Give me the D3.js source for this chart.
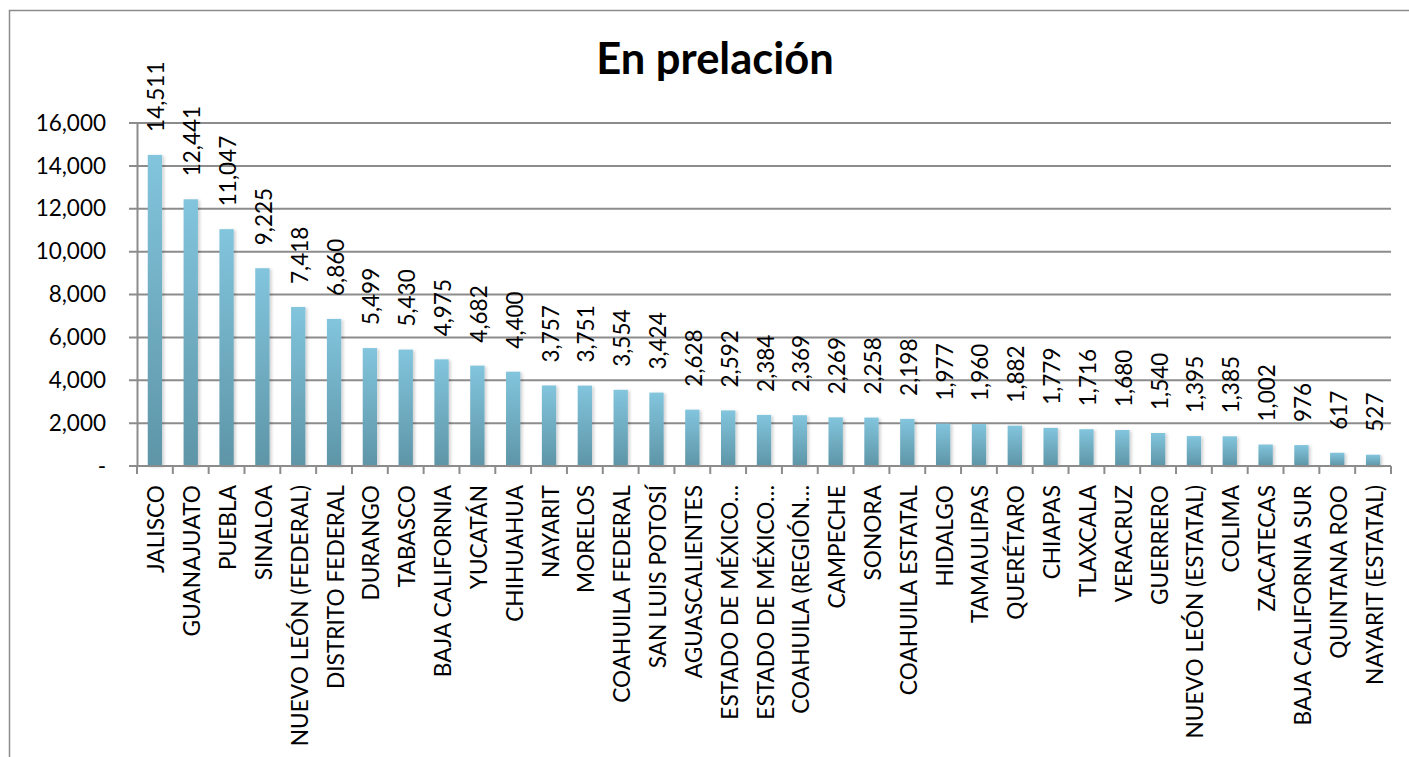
<!DOCTYPE html>
<html>
<head>
<meta charset="utf-8">
<script src="https://cdn.jsdelivr.net/npm/d3@7"></script>
<style>
  body { margin: 0; background: #fff; }
  svg { display: block; }
  text { font-family: Lato, "Open Sans", sans-serif; fill: #000; }
</style>
</head>
<body>
<div id="chart"></div>
<script>
// estados, en el orden de la grafica
var estados = [
    "JALISCO", "GUANAJUATO", "PUEBLA", "SINALOA", "NUEVO LEÓN (FEDERAL)",
    "DISTRITO FEDERAL", "DURANGO", "TABASCO", "BAJA CALIFORNIA", "YUCATÁN",
    "CHIHUAHUA", "NAYARIT", "MORELOS", "COAHUILA FEDERAL", "SAN LUIS POTOSÍ",
    "AGUASCALIENTES", "ESTADO DE MÉXICO…", "ESTADO DE MÉXICO…", "COAHUILA (REGIÓN…", "CAMPECHE",
    "SONORA", "COAHUILA ESTATAL", "HIDALGO", "TAMAULIPAS", "QUERÉTARO",
    "CHIAPAS", "TLAXCALA", "VERACRUZ", "GUERRERO", "NUEVO LEÓN (ESTATAL)",
    "COLIMA", "ZACATECAS", "BAJA CALIFORNIA SUR", "QUINTANA ROO", "NAYARIT (ESTATAL)"
];
var prelacion = [
    14511, 12441, 11047, 9225, 7418,
    6860, 5499, 5430, 4975, 4682,
    4400, 3757, 3751, 3554, 3424,
    2628, 2592, 2384, 2369, 2269,
    2258, 2198, 1977, 1960, 1882,
    1779, 1716, 1680, 1540, 1395,
    1385, 1002, 976, 617, 527
];
var yTicks = [0, 2000, 4000, 6000, 8000, 10000, 12000, 14000, 16000];

var width = 1409, height = 757;
var plotLeft = 137, plotRight = 1391, plotTop = 123, plotBottom = 466;

var svg = d3.select("#chart").append("svg")
    .attr("width", width)
    .attr("height", height);

var defs = svg.append("defs");
var grad = defs.append("linearGradient")
    .attr("id", "barGrad")
    .attr("x1", 0).attr("y1", 0).attr("x2", 0).attr("y2", 1);
grad.append("stop").attr("offset", "0%").attr("stop-color", "#82c5dd");
grad.append("stop").attr("offset", "100%").attr("stop-color", "#5e95a7");

var shadow = defs.append("filter").attr("id", "shadow")
    .attr("x", "-50%").attr("y", "-10%").attr("width", "200%").attr("height", "120%");
shadow.append("feDropShadow")
    .attr("dx", 2).attr("dy", 1).attr("stdDeviation", 1.5)
    .attr("flood-color", "#000").attr("flood-opacity", 0.18);

// marco del grafico
svg.append("rect")
    .attr("x", 9.5).attr("y", 10.5)
    .attr("width", 1420).attr("height", 800)
    .attr("fill", "none")
    .attr("stroke", "#8c8c8c")
    .attr("stroke-width", 1.5);

var idx = d3.range(estados.length);

var x = d3.scaleBand()
    .domain(idx)
    .range([plotLeft, plotRight])
    .paddingInner(0.6)
    .paddingOuter(0.3);

var y = d3.scaleLinear()
    .domain([0, 16000])
    .range([plotBottom, plotTop]);

// lineas de division
svg.append("g").selectAll("line")
    .data(yTicks)
    .enter()
    .append("line")
    .attr("x1", plotLeft - 8)
    .attr("x2", plotRight)
    .attr("y1", function (d) { return y(d); })
    .attr("y2", function (d) { return y(d); })
    .attr("stroke", "#8c8c8c")
    .attr("stroke-width", 2);

// eje y
var yAxis = d3.axisLeft(y)
    .tickValues(yTicks)
    .tickSize(0)
    .tickPadding(31)
    .tickFormat(function (d) { return d === 0 ? "-" : d3.format(",")(d); });

var gy = svg.append("g")
    .attr("transform", "translate(" + plotLeft + ",0)")
    .call(yAxis);
gy.select(".domain")
    .attr("stroke", "#8c8c8c")
    .attr("stroke-width", 2);
gy.selectAll("text")
    .style("font-family", "Lato, 'Open Sans', sans-serif")
    .style("font-size", "22.5px")
    .attr("fill", "#000");

// marcas entre categorias
var step = x.step();
var x0 = x(0) - x.paddingOuter() * step;
svg.append("g").selectAll("line")
    .data(d3.range(estados.length + 1))
    .enter()
    .append("line")
    .attr("x1", function (i) { return x0 + i * step; })
    .attr("x2", function (i) { return x0 + i * step; })
    .attr("y1", plotBottom)
    .attr("y2", plotBottom + 8)
    .attr("stroke", "#8c8c8c")
    .attr("stroke-width", 2);

// barras
svg.append("g").selectAll("rect")
    .data(idx)
    .enter()
    .append("rect")
    .attr("x", function (i) { return x(i); })
    .attr("y", function (i) { return y(prelacion[i]); })
    .attr("width", x.bandwidth())
    .attr("height", function (i) { return plotBottom - y(prelacion[i]); })
    .attr("fill", "url(#barGrad)")
    .attr("filter", "url(#shadow)");

// eje x (linea base encima de las barras)
svg.append("line")
    .attr("x1", plotLeft - 8).attr("x2", plotRight)
    .attr("y1", plotBottom).attr("y2", plotBottom)
    .attr("stroke", "#8c8c8c")
    .attr("stroke-width", 2);

// valores
svg.append("g").selectAll("text")
    .data(idx)
    .enter()
    .append("text")
    .attr("transform", function (i) {
        var cx = x(i) + x.bandwidth() / 2 + 1;
        var cy = y(prelacion[i]) - 23;
        return "translate(" + cx + "," + cy + ") rotate(-90)";
    })
    .attr("text-anchor", "start")
    .attr("dominant-baseline", "central")
    .style("font-size", "22.5px")
    .text(function (i) { return d3.format(",")(prelacion[i]); });

// nombres
svg.append("g").selectAll("text")
    .data(idx)
    .enter()
    .append("text")
    .attr("transform", function (i) {
        var cx = x(i) + x.bandwidth() / 2 + 1;
        return "translate(" + cx + "," + 485 + ") rotate(-90)";
    })
    .attr("text-anchor", "end")
    .attr("dominant-baseline", "central")
    .style("font-size", "22.7px")
    .text(function (i) { return estados[i]; });

// titulo
svg.append("text")
    .attr("x", 715)
    .attr("y", 74)
    .attr("text-anchor", "middle")
    .style("font-size", "43.5px")
    .style("font-weight", "bold")
    .text("En prelación");
</script>
</body>
</html>
